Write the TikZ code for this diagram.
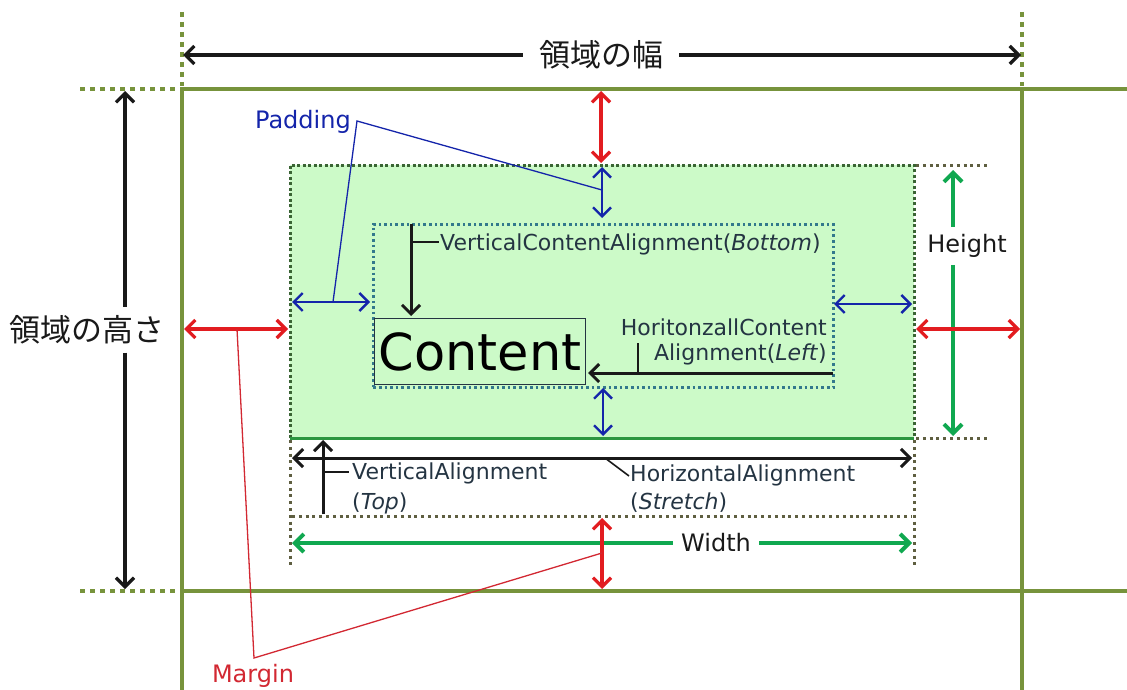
\documentclass[tikz,border=0pt]{standalone}
\usepackage{fontspec}
\setmainfont{DejaVu Sans}
\newfontfamily\jpfont{Noto Sans CJK JP}
\usetikzlibrary{arrows.meta}

\definecolor{olive}{RGB}{119,147,60}
\definecolor{mred}{RGB}{226,28,32}
\definecolor{leadred}{RGB}{210,40,50}
\definecolor{pblue}{RGB}{20,36,170}
\definecolor{sgreen}{RGB}{16,168,80}
\definecolor{boxfill}{RGB}{204,250,200}
\definecolor{boxline}{RGB}{44,150,64}
\definecolor{boxedge}{RGB}{58,100,52}
\definecolor{innerdots}{RGB}{50,120,140}
\definecolor{labeltext}{RGB}{36,52,66}
\definecolor{dotgray}{RGB}{95,95,65}
\definecolor{ink}{RGB}{25,25,25}

\tikzset{
  >={Straight Barb[length=9pt,width=18pt]},
  frameline/.style={olive,line width=4.8pt},
  framedots/.style={olive,line width=4.8pt,dash pattern=on 4.8pt off 5.2pt},
  guidedots/.style={dotgray,line width=3pt,dash pattern=on 3pt off 3.8pt},
  blackdim/.style={ink,line width=3.2pt},
  margindim/.style={mred,line width=3.2pt,<->},
  paddim/.style={pblue,line width=2.4pt,<->},
  sizedim/.style={sgreen,line width=4pt},
  alignarrow/.style={ink,line width=3pt},
  leader/.style={line width=1.3pt},
  jplab/.style={font=\jpfont\fontsize{31}{36}\selectfont,text=ink,inner sep=3pt},
  biglab/.style={font=\fontsize{24}{28}\selectfont,inner sep=2pt},
  alab/.style={font=\fontsize{22}{28}\selectfont,text=labeltext,inner sep=1pt},
}

\begin{document}
\begin{tikzpicture}[x=1pt,y=-1pt]
\useasboundingbox (0,0) rectangle (1127,690);

% element box with its padding area and content
\node[fill=boxfill,minimum width=624pt,minimum height=273pt,inner sep=0pt,
      anchor=north west] (elem) at (290,165) {};
\draw[boxedge,line width=3pt,dash pattern=on 3pt off 2.5pt] (elem.south west) -- (elem.north west) -- (elem.north east) -- (elem.south east);
\draw[boxline,line width=3pt] (elem.south west) -- (elem.south east);
\node[draw=innerdots,line width=2.6pt,dash pattern=on 2.6pt off 3pt,
      minimum width=460pt,minimum height=163pt,inner sep=0pt,anchor=north west] (pad) at (372,223) {};
\node[draw=labeltext,line width=1.3pt,minimum width=211pt,minimum height=66pt,inner sep=0pt,
      anchor=north west,font=\fontsize{51}{56}\selectfont,text=black] (content) at (374,318) {Content};

% outer region frame
\draw[frameline] (182,89) -- (1127,89);
\draw[frameline] (182,591) -- (1127,591);
\draw[frameline] (182,87) -- (182,690);
\draw[frameline] (1022,87) -- (1022,690);
\draw[framedots] (80,89) -- (180,89);
\draw[framedots] (80,591) -- (180,591);
\draw[framedots] (182,12) -- (182,86);
\draw[framedots] (1022,12) -- (1022,86);

% guide lines of the element size
\draw[guidedots] (916,165) -- (990,165);
\draw[guidedots] (916,438) -- (990,438);
\draw[guidedots] (290,440) -- (290,568);
\draw[guidedots] (914,440) -- (914,568);
\draw[guidedots] (292,516) -- (912,516);

% region width and height
\coordinate (wl) at (183,55);
\coordinate (wr) at (1021,55);
\node[jplab,inner xsep=16pt] (wlab) at (601,55) {領域の幅};
\draw[blackdim,<-] (wl) -- (wlab.west);
\draw[blackdim,->] (wlab.east) -- (wr);

\coordinate (ht) at (125,91);
\coordinate (hb) at (125,589);
\node[jplab,inner ysep=8pt] (hlab) at (87,330) {領域の高さ};
\draw[blackdim,<-] (ht) -- (ht |- hlab.north);
\draw[blackdim,->] (hb |- hlab.south) -- (hb);

% Height and Width
\coordinate (eht) at (953,170);
\coordinate (ehb) at (953,436);
\node[biglab,text=ink,inner ysep=7pt] (heightlab) at (967,246) {Height};
\draw[sizedim,<-] (eht) -- (eht |- heightlab.north);
\draw[sizedim,->] (ehb |- heightlab.south) -- (ehb);

\coordinate (ewl) at (292,543);
\coordinate (ewr) at (912,543);
\node[biglab,text=ink,inner xsep=8pt] (widthlab) at (716,543) {Width};
\draw[sizedim,<-] (ewl) -- (widthlab.west);
\draw[sizedim,->] (widthlab.east) -- (ewr);

% margins
\coordinate (mt1) at (601,91);   \coordinate (mt2) at (601,163);
\coordinate (ml1) at (184,329);  \coordinate (ml2) at (288,329);
\coordinate (mr1) at (916,329);  \coordinate (mr2) at (1020,329);
\coordinate (mb1) at (602,518);  \coordinate (mb2) at (602,589);
\draw[margindim] (mt1) -- (mt2);
\draw[margindim] (ml1) -- (ml2);
\draw[margindim] (mr1) -- (mr2);
\draw[margindim] (mb1) -- (mb2);

% paddings
\coordinate (pt1) at (602,167);  \coordinate (pt2) at (602,218);
\coordinate (pl1) at (292,302);  \coordinate (pl2) at (370,302);
\coordinate (pr1) at (834,304);  \coordinate (pr2) at (912,304);
\coordinate (pb1) at (603,388);  \coordinate (pb2) at (603,436);
\draw[paddim] (pt1) -- (pt2);
\draw[paddim] (pl1) -- (pl2);
\draw[paddim] (pr1) -- (pr2);
\draw[paddim] (pb1) -- (pb2);

% Padding label and its leaders
\node[biglab,text=pblue,anchor=east] (padlab) at (353,122) {Padding};
\coordinate (padknee) at (357,121);
\draw[pblue,leader] (602,190) -- (padknee) -- (333,302);

% Margin label and its leaders
\node[biglab,text=leadred] (marlab) at (253,676) {Margin};
\coordinate (marknee) at (254,658);
\draw[leadred,leader] (237,329) -- (marknee) -- (602,553);

% VerticalContentAlignment
\coordinate (vca1) at (411,224);
\coordinate (vca2) at (411,316);
\draw[alignarrow,->] (vca1) -- (vca2);
\node[alab,anchor=west] (vcalab) at (439,244) {VerticalContentAlignment(\textit{Bottom})};
\draw[ink,line width=1.6pt] (411,242) -- (vcalab.west |- 0,242);

% HoritonzallContentAlignment
\coordinate (hca1) at (833,373);
\coordinate (hca2) at (588,373);
\draw[alignarrow,->] (hca1) -- (hca2);
\node[alab,anchor=east,align=right,font=\fontsize{22}{25}\selectfont] (hcalab) at (828,342)
  {HoritonzallContent\\Alignment(\textit{Left})};
\draw[ink,line width=1.6pt] (638,373) -- (638,343);

% VerticalAlignment
\coordinate (va1) at (323,514);
\coordinate (va2) at (323,440);
\draw[alignarrow,->] (va1) -- (va2);
\node[alab,anchor=west,align=left,font=\fontsize{22}{30}\selectfont] (valab) at (351,488)
  {VerticalAlignment\\(\textit{Top})};
\draw[ink,line width=1.6pt] (323,472) -- (349,472);

% HorizontalAlignment
\coordinate (ha1) at (292,458);
\coordinate (ha2) at (912,458);
\draw[alignarrow,<->] (ha1) -- (ha2);
\node[alab,anchor=west,align=left,font=\fontsize{22}{28}\selectfont] (halab) at (629,489)
  {HorizontalAlignment\\(\textit{Stretch})};
\draw[ink,line width=1.6pt] (605,458) -- (629,476);
\end{tikzpicture}
\end{document}
